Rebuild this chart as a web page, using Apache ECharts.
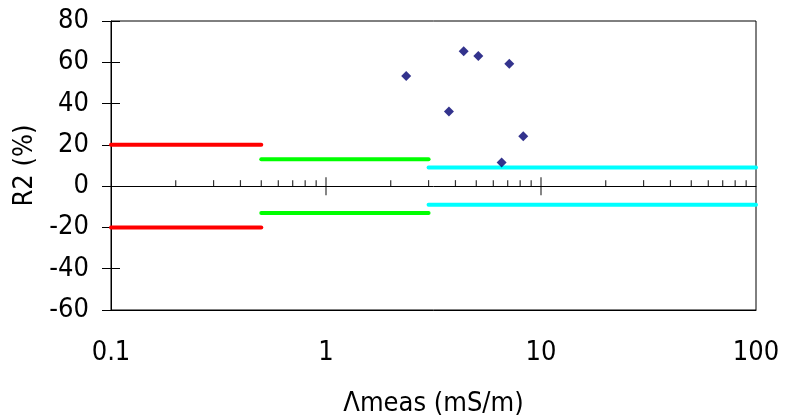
<!DOCTYPE html>
<html>
<head>
<meta charset="utf-8">
<script src="https://cdn.jsdelivr.net/npm/echarts@6/dist/echarts.min.js"></script>
<style>
html,body{margin:0;padding:0;background:#fff;}
#chart{width:787px;height:415px;}
</style>
</head>
<body>
<div id="chart"></div>
<script>
// ---- data ----
const measX = [2.36, 3.73, 4.37, 5.11, 6.56, 7.12, 8.27];
const measY = [53.3, 36.2, 65.4, 63.0, 11.5, 59.3, 24.2];
const segBounds = [0.1, 0.5, 3, 100];
const segLimits = [20, 13, 9];
const segColors = ['#ff0000', '#00ff00', '#00ffff'];
const minorTickValues = [0.2,0.3,0.4,0.5,0.6,0.7,0.8,0.9, 2,3,4,5,6,7,8,9, 20,30,40,50,60,70,80,90];
const majorTickValues = [1, 10];
const xTickLabels = ['0.1', '1', '10', '100'];
const yMin = -60, yMax = 80, yStep = 20;

const FONT = "'DejaVu Sans Condensed', 'DejaVu Sans', sans-serif";
const FS = 27;

const chart = echarts.init(document.getElementById('chart'), null, {renderer: 'canvas'});

const series = [];
segLimits.forEach((v, i) => {
  [v, -v].forEach(val => {
    series.push({
      type: 'line', xAxisIndex: 0, yAxisIndex: 0,
      data: [[segBounds[i], val], [segBounds[i + 1], val]],
      symbol: 'none', clip: false, silent: true, z: 3,
      lineStyle: {color: segColors[i], width: 4, cap: 'round'}
    });
  });
});
series.push({
  type: 'scatter', xAxisIndex: 1, yAxisIndex: 0,
  data: minorTickValues.map(v => [v, 0]),
  symbol: 'rect', symbolSize: [1.2, 6], symbolOffset: [0, -3],
  itemStyle: {color: '#000'}, silent: true, z: 2
});
series.push({
  type: 'scatter', xAxisIndex: 1, yAxisIndex: 0,
  data: majorTickValues.map(v => [v, 0]),
  symbol: 'rect', symbolSize: [1.2, 18],
  itemStyle: {color: '#000'}, silent: true, z: 2
});
series.push({
  type: 'scatter', xAxisIndex: 0, yAxisIndex: 0,
  data: measX.map((x, i) => [x, measY[i]]),
  symbol: 'diamond', symbolSize: 10,
  itemStyle: {color: '#000070'}, z: 5
});

chart.setOption({
  backgroundColor: '#fff',
  animation: false,
  textStyle: {fontFamily: FONT},
  grid: {left: 111, right: 31, top: 21, bottom: 105, containLabel: false, outerBoundsMode: 'none',
         show: true, borderColor: '#000', borderWidth: 1, backgroundColor: 'transparent'},
  xAxis: [
    {
      type: 'log', logBase: 10, min: 0.1, max: 100, position: 'bottom',
      axisLine: {show: true, onZero: false, lineStyle: {color: '#000'}},
      axisTick: {show: false}, splitLine: {show: false},
      axisLabel: {
        color: '#000', fontSize: FS, fontFamily: FONT, margin: 29,
        formatter: (v) => {
          const idx = Math.round(Math.log10(v)) + 1;
          return xTickLabels[idx] !== undefined ? xTickLabels[idx] : '';
        }
      },
      name: 'Λmeas (mS/m)', nameLocation: 'middle', nameGap: 80,
      nameTextStyle: {color: '#000', fontSize: FS, fontFamily: FONT}
    },
    {
      type: 'log', logBase: 10, min: 0.1, max: 100, position: 'bottom',
      axisLine: {show: true, onZero: true, lineStyle: {color: '#000'}},
      axisTick: {show: false}, splitLine: {show: false}, axisLabel: {show: false}
    }
  ],
  yAxis: [
    {
      type: 'value', min: yMin, max: yMax, interval: yStep, position: 'left',
      axisLine: {show: true, onZero: false, lineStyle: {color: '#000'}},
      axisTick: {show: true, inside: false, length: 9, lineStyle: {color: '#000'}},
      splitLine: {show: false},
      axisLabel: {color: '#000', fontSize: FS, fontFamily: FONT, margin: 22},
      name: 'R2 (%)', nameLocation: 'middle', nameGap: 70, nameRotate: 90,
      nameTextStyle: {color: '#000', fontSize: FS, fontFamily: FONT}
    },
    {
      type: 'value', min: yMin, max: yMax, interval: yStep, position: 'left',
      axisLine: {show: false, onZero: false},
      axisTick: {show: true, inside: true, length: 9, lineStyle: {color: '#000'}},
      splitLine: {show: false}, axisLabel: {show: false}
    }
  ],
  series: series
});
</script>
</body>
</html>
